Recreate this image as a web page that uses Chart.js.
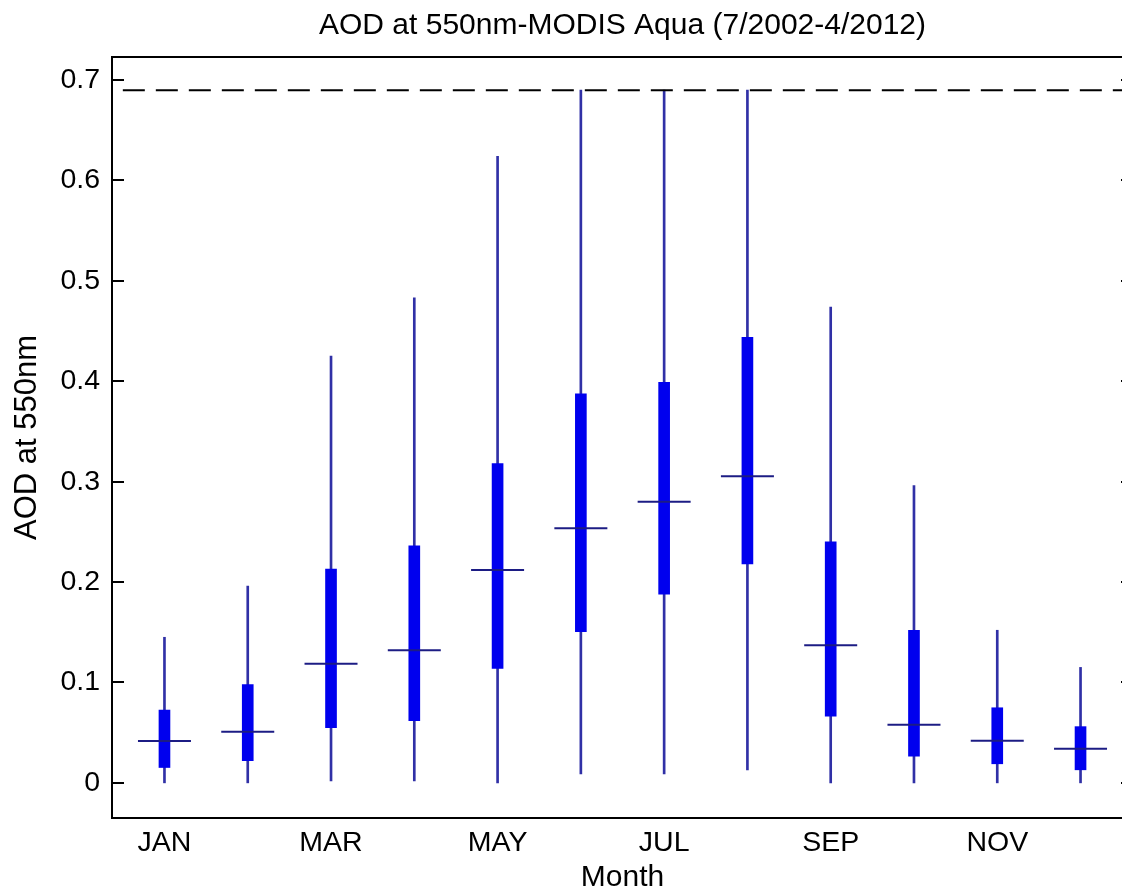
<!DOCTYPE html>
<html>
<head>
<meta charset="utf-8">
<script src="https://cdn.jsdelivr.net/npm/chart.js@4"></script>
<style>
  html, body { margin: 0; padding: 0; background: #fff; overflow: hidden; }
</style>
</head>
<body>
<canvas id="aodChart" width="1140" height="891"></canvas>
<script>
// Monthly AOD statistics
const months = [1, 2, 3, 4, 5, 6, 7, 8, 9, 10, 11, 12]
const whiskerLow = [0, 0, 0.002, 0.002, 0, 0.009, 0.009, 0.013, 0, 0, 0, 0]
const whiskerHigh = [0.145, 0.196, 0.425, 0.483, 0.624, 0.69, 0.69, 0.69, 0.474, 0.296, 0.152, 0.115]
const q1 = [0.0153, 0.022, 0.055, 0.062, 0.114, 0.1506, 0.188, 0.218, 0.0665, 0.0266, 0.019, 0.013]
const q3 = [0.0725, 0.098, 0.213, 0.236, 0.318, 0.3875, 0.399, 0.4437, 0.24, 0.152, 0.0748, 0.056]
const medians = [0.0416, 0.051, 0.1187, 0.132, 0.212, 0.2536, 0.28, 0.3055, 0.137, 0.058, 0.042, 0.034]

// dashed cap line across the plot
const capX = [0.5, 12.5]
const capValue = 0.69

// tick labels
const xTickMonths = [1, 3, 5, 7, 9, 11]
const xTickLabels = ["JAN", "MAR", "MAY", "JUL", "SEP", "NOV"]
const yTickValues = [0, 0.1, 0.2, 0.3, 0.4, 0.5, 0.6, 0.7]
const yTickLabels = ["0", "0.1", "0.2", "0.3", "0.4", "0.5", "0.6", "0.7"]

Chart.defaults.font.family = "'Liberation Sans', Arial, sans-serif"
Chart.defaults.color = "#000"

// frame around the axes with inward tick marks (MATLAB style)
const framePlugin = {
  id: "frame",
  afterDraw: (chart) => {
    const { ctx, chartArea } = chart
    const yScale = chart.scales.y
    ctx.save()
    ctx.strokeStyle = "#000"
    ctx.lineWidth = 2
    ctx.strokeRect(chartArea.left, chartArea.top, chartArea.right - chartArea.left, chartArea.bottom - chartArea.top)
    ctx.beginPath()
    yTickValues.forEach((v) => {
      const y = Math.round(yScale.getPixelForValue(v))
      ctx.moveTo(chartArea.left, y)
      ctx.lineTo(chartArea.left + 12, y)
      ctx.moveTo(chartArea.right, y)
      ctx.lineTo(chartArea.right - 12, y)
    })
    ctx.stroke()
    ctx.restore()
  },
}

new Chart(document.getElementById("aodChart"), {
  type: "bar",
  data: {
    datasets: [
      {
        type: "line",
        data: capX.map((x) => ({ x: x, y: capValue })),
        borderColor: "#000",
        borderWidth: 2,
        borderDash: [22, 11],
        pointRadius: 0,
        order: 1,
      },
      {
        type: "scatter",
        data: months.map((m, i) => ({ x: m, y: medians[i] })),
        pointStyle: "line",
        pointRadius: 26.5,
        pointBorderWidth: 2,
        pointBorderColor: "#1c1c84",
        order: 2,
      },
      {
        type: "bar",
        data: months.map((m, i) => ({ x: m, y: [q1[i], q3[i]] })),
        backgroundColor: "#0000ee",
        barThickness: 11,
        grouped: false,
        borderWidth: 0,
        order: 3,
      },
      {
        type: "bar",
        data: months.map((m, i) => ({ x: m, y: [whiskerLow[i], whiskerHigh[i]] })),
        backgroundColor: "#3030a6",
        barThickness: 2,
        grouped: false,
        borderWidth: 0,
        order: 4,
      },
    ],
  },
  options: {
    responsive: false,
    animation: false,
    layout: {
      autoPadding: false,
      padding: { left: 0, top: 0, right: 7, bottom: 0 },
    },
    plugins: {
      legend: { display: false },
      tooltip: { enabled: false },
      title: {
        display: true,
        fullSize: false,
        text: "AOD at 550nm-MODIS Aqua (7/2002-4/2012)",
        font: { size: 30, weight: "normal" },
        color: "#000",
        padding: { top: 8, bottom: 13 },
      },
    },
    scales: {
      x: {
        type: "linear",
        min: 0.37,
        max: 12.63,
        offset: false,
        grid: { display: false, drawTicks: false },
        border: { display: false },
        afterBuildTicks: (scale) => {
          scale.ticks = xTickMonths.map((v) => ({ value: v }))
        },
        afterFit: (scale) => {
          scale.height = 73
        },
        ticks: {
          autoSkip: false,
          maxRotation: 0,
          padding: 8,
          font: { size: 28.5 },
          callback: (value) => xTickLabels[xTickMonths.indexOf(value)],
        },
        title: {
          display: true,
          text: "Month",
          font: { size: 30 },
          padding: { top: 0, bottom: -5 },
        },
      },
      y: {
        type: "linear",
        min: -0.035,
        max: 0.723,
        grid: { display: false, drawTicks: false },
        border: { display: false },
        afterBuildTicks: (scale) => {
          scale.ticks = yTickValues.map((v) => ({ value: v }))
        },
        afterFit: (scale) => {
          scale.width = 112
        },
        ticks: {
          padding: 12,
          font: { size: 28.5 },
          callback: (value) => yTickLabels[yTickValues.indexOf(value)],
        },
        title: {
          display: true,
          text: "AOD at 550nm",
          font: { size: 31 },
          padding: { top: 9, bottom: 0 },
        },
      },
    },
  },
  plugins: [framePlugin],
})
</script>
</body>
</html>
